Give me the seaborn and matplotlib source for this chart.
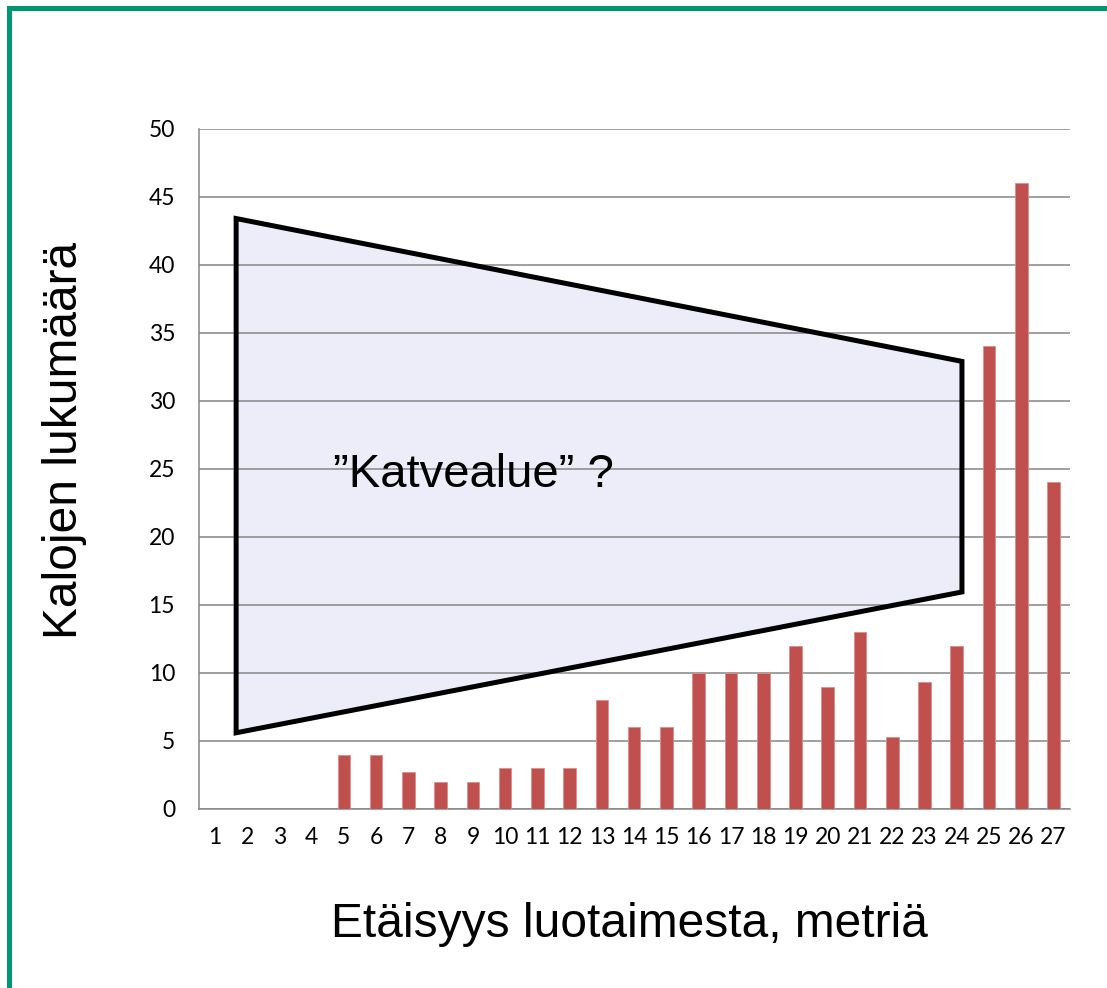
import numpy as np
import pandas as pd
import matplotlib.pyplot as plt
import seaborn as sns
from matplotlib.patches import Polygon, Rectangle

# Data
distance = list(range(1, 28))
fish_count = [0, 0, 0, 0, 4, 4, 2.7, 2, 2, 3, 3, 3, 8, 6, 6, 10, 10, 10,
              12, 9, 13, 5.3, 9.3, 12, 34, 46, 24]

# "shadow zone" annotation shape (distance, count)
zone_x = [1.66, 24.16, 24.16, 1.66]
zone_y = [43.4, 32.9, 15.95, 5.6]

df = pd.DataFrame({"distance": distance, "count": fish_count})

sns.set_style("white")
plt.rcParams['font.family'] = ['Lato', 'DejaVu Sans']
plt.rcParams['text.color'] = 'black'

grid_col = '#868686'
arial = ['Liberation Sans', 'DejaVu Sans']

fig = plt.figure(figsize=(11.07, 9.88), dpi=100)
ax = fig.add_axes([0.1795, 0.1812, 0.7868, 0.6885])

sns.barplot(data=df, x="distance", y="count", native_scale=True, width=0.39,
            color='#C0504D', saturation=1, edgecolor='#D98E8C', linewidth=0.6,
            ax=ax, zorder=3)

# shaded zone: fill below gridlines, outline above
pts = list(zip(zone_x, zone_y))
ax.add_patch(Polygon(pts, closed=True, facecolor='#EDEDF9', edgecolor='none', zorder=0.3))
ax.add_patch(Polygon(pts, closed=True, fill=False, edgecolor='black', lw=3.6,
                     joinstyle='miter', zorder=2))
ax.text(4.66, 23.68, '\u201dKatvealue\u201d ?', ha='left', va='baseline',
        fontsize=34, family=arial, color='black', zorder=4)

ax.set_xlim(0.5, 27.5)
ax.set_ylim(0, 50)
ax.set_yticks(range(0, 51, 5))
ax.set_xticks(np.arange(0.5, 28, 1))
ax.set_xticklabels([])
ax.set_xticks(distance, minor=True)
ax.set_xticklabels([str(d) for d in distance], minor=True)
ax.tick_params(axis='x', which='major', length=8, width=1.1, color=grid_col, direction='out')
ax.tick_params(axis='x', which='minor', length=0, pad=13, labelsize=16.5, labelcolor='black')
ax.tick_params(axis='y', length=6, width=1.1, color=grid_col, direction='out', pad=11,
               labelsize=16.5, labelcolor='black')
ax.set_xlabel('')
ax.set_ylabel('')

ax.yaxis.grid(True, color=grid_col, lw=1.1)
ax.set_axisbelow(True)
for s in ['top', 'right']:
    ax.spines[s].set_visible(False)
for s in ['left', 'bottom']:
    ax.spines[s].set_color(grid_col)
    ax.spines[s].set_linewidth(1.1)

fig.text(65 / 1107, 0.5547, 'Kalojen lukumäärä', rotation=90, ha='center', va='center',
         fontsize=34.5, family=arial, color='black')
fig.text(0.569, 0.064, 'Etäisyys luotaimesta, metriä', ha='center', va='center',
         fontsize=34.5, family=arial, color='black')

# green frame, open at right and bottom edges
fig.patches.append(Rectangle((9 / 1107, -0.1), 1.2, 1 - 8.5 / 988 + 0.1, fill=False,
                             edgecolor='#009670', lw=3.6, transform=fig.transFigure))

fig.savefig('out.png', dpi=100)
